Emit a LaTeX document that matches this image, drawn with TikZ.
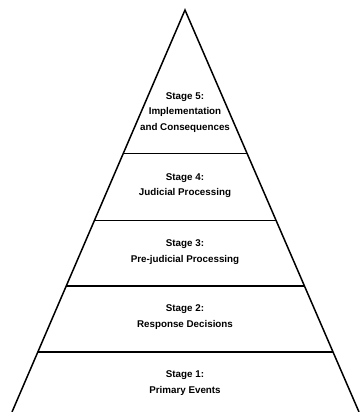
\documentclass[tikz,border=0pt]{standalone}
\usepackage{fontspec}
\setmainfont{Liberation Sans}
\begin{document}
\begin{tikzpicture}[x=1pt,y=-1pt,
  edge/.style={line width=1.5pt,black},
  stagetext/.style={align=center,font=\bfseries\fontsize{9.8}{15.5}\selectfont,inner sep=0pt}]
\useasboundingbox (0,0) rectangle (362,412);
\coordinate (apex) at (185,10);
\coordinate (bl) at (12,412);
\coordinate (br) at (359,412);
\draw[edge] (bl) -- (apex) -- (br);
% dividers
\path (apex) -- (bl) coordinate[pos=0.357] (l54) coordinate[pos=0.524] (l43) coordinate[pos=0.686] (l32) coordinate[pos=0.851] (l21);
\path (apex) -- (br) coordinate[pos=0.357] (r54) coordinate[pos=0.524] (r43) coordinate[pos=0.686] (r32) coordinate[pos=0.851] (r21);
\draw[edge] (l54) -- (r54);
\draw[edge] (l43) -- (r43);
\draw[edge] (l32) -- (r32);
\draw[edge] (l21) -- (r21);
\node[stagetext] (s5) at (185,112.5) {Stage 5:\\Implementation\\and Consequences};
\node[stagetext] (s4) at (185,185.5) {Stage 4:\\Judicial Processing};
\node[stagetext] (s3) at (185,252) {Stage 3:\\Pre-judicial Processing};
\node[stagetext] (s2) at (185,317) {Stage 2:\\Response Decisions};
\node[stagetext] (s1) at (185,383) {Stage 1:\\Primary Events};
\end{tikzpicture}
\end{document}
